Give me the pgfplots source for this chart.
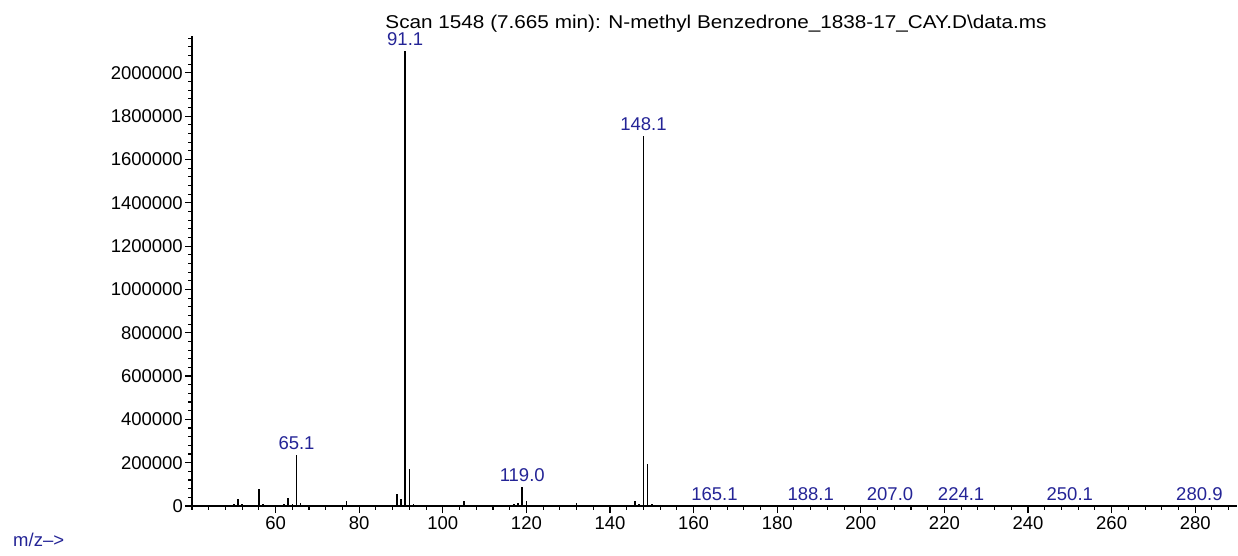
\documentclass[border=0pt]{standalone}
\usepackage{fontspec}
\setmainfont{Liberation Sans}
\usepackage{pgfplots}
\pgfplotsset{compat=1.18}
\definecolor{peakblue}{RGB}{36,36,150}
\newcommand{\chartfont}{\fontsize{18.5pt}{22pt}\selectfont}
\begin{document}
\begin{tikzpicture}
\useasboundingbox (0,0) rectangle (1238pt,556pt);
\begin{axis}[
  at={(192pt,50pt)}, anchor=south west,
  scale only axis, width=1045pt, height=470pt,
  xmin=40, xmax=290, ymin=0, ymax=2170000,
  clip=false,
  axis lines*=left,
  axis line style={line width=1.3pt, black},
  xtick={60,80,...,280}, minor xtick={40,44,...,288},
  ytick={0,200000,...,2000000}, minor ytick={0,40000,...,2160000},
  tick align=outside, major tick length=7pt, minor tick length=4pt,
  every tick/.style={black, line width=1.1pt},
  scaled y ticks=false,
  tick label style={font=\chartfont, black},
  yticklabel style={/pgf/number format/fixed, /pgf/number format/1000 sep={}, /pgf/number format/assume math mode=true, inner sep=2pt},
  xticklabel style={/pgf/number format/assume math mode=true, inner sep=3pt},
]
\addplot[ycomb, black, line width=1.6pt, mark=none] coordinates {
(50,10000) (51,31000) (52,8000) (55,6000) (56,77000) (57,10000)
(62,7000) (63,38000) (64,8000) (65,237000) (66,15000)
(77,23000) (78,6000) (79,6000)
(89,54000) (90,31000) (91,2100000) (92,172000) (93,8000)
(103,6000) (104,6000) (105,23000)
(115,6000) (116,6000) (117,9000) (118,12000) (119,89000) (120,22000)
(131,6000) (132,15000)
(146,25000) (147,10000) (148,1710000) (149,192000) (150,8000)
(165,1500) (188,1500) (207,1500) (224,1500) (250,1500) (281,1500)
};
\addplot[draw=none, mark=none, nodes near coords, point meta=explicit symbolic,
  nodes near coords style={font=\chartfont, text=peakblue, anchor=south, inner sep=0pt, yshift=5pt}]
coordinates {
(65,237000) [65.1]
(91,2100000) [91.1]
(119,89000) [119.0]
(148,1710000) [148.1]
(165,1500) [165.1]
(188,1500) [188.1]
(207,1500) [207.0]
(224,1500) [224.1]
(250,1500) [250.1]
(281,1500) [280.9]
};
\end{axis}
\node[anchor=base, font=\chartfont, inner sep=0pt] at (716pt,527pt)
  {\scalebox{1.12}[1]{Scan 1548 (7.665 min): N-methyl Benzedrone\_1838-17\_CAY.D\textbackslash data.ms}};
\node[anchor=base west, font=\chartfont, text=peakblue, inner sep=0pt] at (13pt,9pt) {m/z-->};
\end{tikzpicture}
\end{document}
